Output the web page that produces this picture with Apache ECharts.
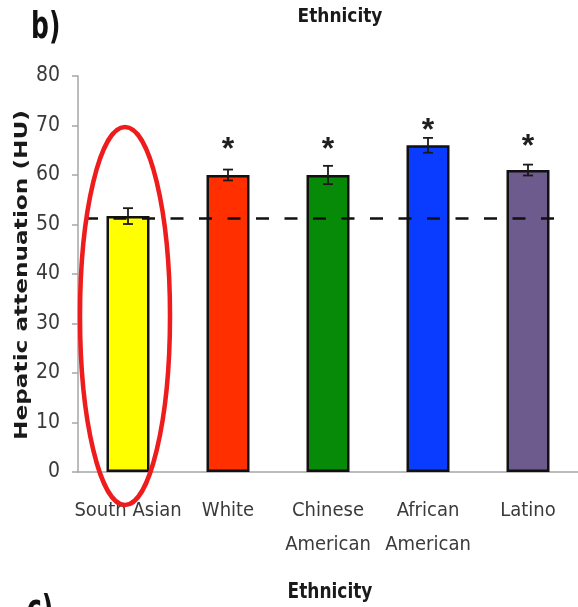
<!DOCTYPE html>
<html>
<head>
<meta charset="utf-8">
<script src="https://cdn.jsdelivr.net/npm/echarts@6/dist/echarts.min.js"></script>
<style>
  html, body { margin: 0; padding: 0; background: #ffffff; }
  #chart { width: 578px; height: 607px; }
</style>
</head>
<body>
<div id="chart"></div>
<script>
// Mean hepatic attenuation (HU) by ethnicity, with standard error
const categories = ['South Asian', 'White', 'Chinese\nAmerican', 'African\nAmerican', 'Latino'];
const means = [51.7, 60, 60, 66, 61];
const errors = [1.6, 1.1, 1.85, 1.5, 1.1];
const barColors = ['#ffff00', '#ff2f00', '#078a07', '#0a3cff', '#6e5b8e'];
// height (HU) at which the significance marker sits; none for the reference group
const starHeights = [null, 66.7, 66.7, 70.5, 67.3];
// South Asian reference level drawn as a dashed line
const referenceLevel = 51.2;
const yMin = 0, yMax = 80, yStep = 10;

const labelFont = '"Liberation Sans Narrow", "DejaVu Sans Condensed", "Liberation Sans", sans-serif';
const boldFont = '"DejaVu Sans", "Liberation Sans", sans-serif';

const chart = echarts.init(document.getElementById('chart'), null, { renderer: 'canvas' });

const barData = means.map((v, i) => ({ value: v, itemStyle: { color: barColors[i] } }));
const errData = means.map((v, i) => [i, v, errors[i]]);
const starData = starHeights.map((h, i) => [i, h]).filter(d => d[1] !== null);

const option = {
  animation: false,
  backgroundColor: '#ffffff',
  grid: { left: 78, right: -5, top: 76, bottom: 135, containLabel: false },
  xAxis: {
    type: 'category',
    data: categories,
    axisLine: { show: true, lineStyle: { color: '#a6a6a6', width: 1.5 } },
    axisTick: { show: false },
    axisLabel: {
      fontFamily: labelFont,
      fontSize: 20,
      lineHeight: 34,
      color: '#3a3a3a',
      margin: 22,
      interval: 0
    },
    splitLine: { show: false }
  },
  yAxis: {
    type: 'value',
    min: yMin,
    max: yMax,
    interval: yStep,
    axisLine: { show: true, lineStyle: { color: '#a6a6a6', width: 1.5 } },
    axisTick: { show: true, inside: false, length: 6, lineStyle: { color: '#a6a6a6', width: 1.5 } },
    axisLabel: {
      fontFamily: labelFont,
      fontSize: 21,
      color: '#3a3a3a',
      margin: 18
    },
    splitLine: { show: false }
  },
  series: [
    {
      type: 'bar',
      data: barData,
      barWidth: 43,
      itemStyle: { borderColor: '#111111', borderWidth: 2.5 },
      z: 2
    },
    {
      // standard-error whiskers
      type: 'custom',
      data: errData,
      encode: { x: 0, y: 1 },
      z: 4,
      renderItem: function (params, api) {
        const idx = api.value(0);
        const m = api.value(1);
        const e = api.value(2);
        const hi = api.coord([idx, m + e]);
        const lo = api.coord([idx, m - e]);
        const cap = 5;
        const st = { stroke: '#1a1a1a', lineWidth: 1.8 };
        return {
          type: 'group',
          children: [
            { type: 'line', shape: { x1: hi[0], y1: hi[1], x2: lo[0], y2: lo[1] }, style: st },
            { type: 'line', shape: { x1: hi[0] - cap, y1: hi[1], x2: hi[0] + cap, y2: hi[1] }, style: st },
            { type: 'line', shape: { x1: lo[0] - cap, y1: lo[1], x2: lo[0] + cap, y2: lo[1] }, style: st }
          ]
        };
      }
    },
    {
      // significance markers
      type: 'custom',
      data: starData,
      encode: { x: 0, y: 1 },
      z: 5,
      renderItem: function (params, api) {
        const p = api.coord([api.value(0), api.value(1)]);
        return {
          type: 'text',
          x: p[0],
          y: p[1] + 8,
          style: {
            text: '*',
            font: 'bold 32px "Liberation Sans", sans-serif',
            fill: '#1e1e1e',
            align: 'center',
            verticalAlign: 'middle'
          }
        };
      }
    },
    {
      // dashed reference line at the South Asian level
      type: 'custom',
      data: [[0, referenceLevel]],
      encode: { x: 0, y: 1 },
      z: 6,
      renderItem: function (params, api) {
        const band = api.size([1, 0])[0];
        const a = api.coord([0, api.value(1)]);
        const b = api.coord([categories.length - 1, api.value(1)]);
        return {
          type: 'line',
          shape: { x1: a[0] - 0.43 * band, y1: a[1], x2: b[0] + 0.30 * band, y2: b[1] },
          style: { stroke: '#111111', lineWidth: 2.5, lineDash: [13, 15.5] }
        };
      }
    }
  ],
  graphic: [
    {
      type: 'text', x: 31, y: 9, scaleY: 1.5,
      style: { text: 'b)', font: 'bold 25px ' + boldFont, fill: '#111111' }
    },
    {
      type: 'text', x: 340, y: 17, scaleY: 1.1,
      style: { text: 'Ethnicity', font: 'bold 17px ' + boldFont, fill: '#1a1a1a', align: 'center', verticalAlign: 'middle' }
    },
    {
      type: 'text', x: 22, y: 275, rotation: Math.PI / 2, scaleX: 1.29,
      style: { text: 'Hepatic attenuation (HU)', font: 'bold 18px ' + boldFont, fill: '#1a1a1a', align: 'center', verticalAlign: 'middle' }
    },
    {
      type: 'text', x: 330, y: 593, scaleY: 1.2,
      style: { text: 'Ethnicity', font: 'bold 17px ' + boldFont, fill: '#1a1a1a', align: 'center', verticalAlign: 'middle' }
    },
    {
      type: 'text', x: 27, y: 592, scaleY: 1.5,
      style: { text: 'c)', font: 'bold 25px ' + boldFont, fill: '#111111' }
    },
    {
      type: 'ellipse', z: 100,
      shape: { cx: 125, cy: 316, rx: 45, ry: 189 },
      style: { fill: 'none', stroke: '#ee1c1c', lineWidth: 4.5 }
    }
  ]
};

chart.setOption(option);
</script>
</body>
</html>
